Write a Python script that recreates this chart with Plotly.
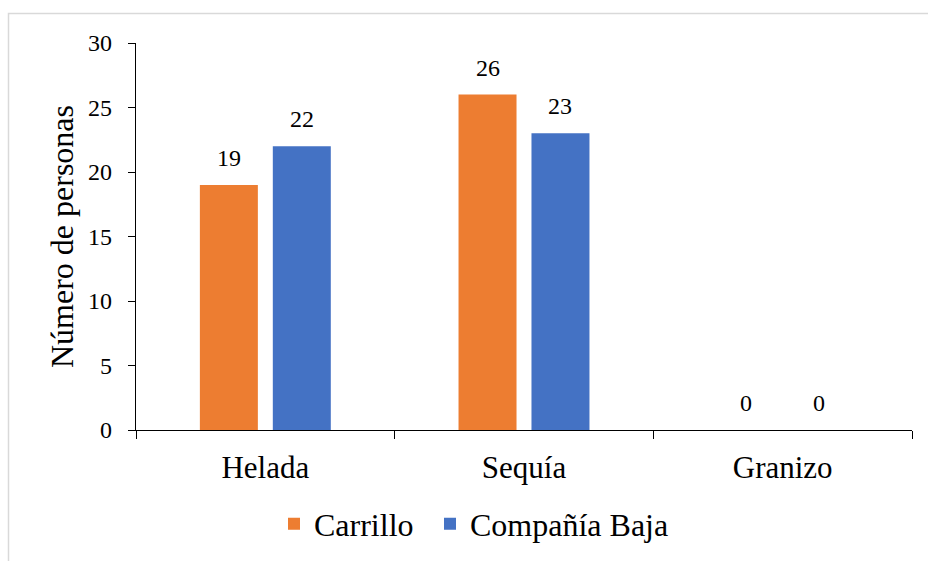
import plotly.graph_objects as go

categories = ["Helada", "Sequía", "Granizo"]
carrillo = [19, 26, 0]
compania_baja = [22, 23, 0]
series_names = ["Carrillo", "Compañía Baja"]
y_tick_vals = [0, 5, 10, 15, 20, 25, 30]

W, H = 928, 561
ML, MR, MT, MB = 136, 16, 43, 131
PW, PH = W - ML - MR, H - MT - MB

FONT = "Liberation Serif"
ORANGE = "#ED7D31"
BLUE = "#4472C4"

fig = go.Figure()
fig.add_trace(go.Bar(x=categories, y=carrillo, name=series_names[0],
                     legend="legend",
                     marker=dict(color=ORANGE, line=dict(width=0))))
fig.add_trace(go.Bar(x=categories, y=compania_baja, name=series_names[1],
                     legend="legend2",
                     marker=dict(color=BLUE, line=dict(width=0))))

# data labels
slot = PW / len(categories) * (1 - 0.436) / 2
for vals, dx in ((carrillo, -slot / 2), (compania_baja, slot / 2)):
    for c, v in zip(categories, vals):
        fig.add_annotation(x=c, y=v, text=str(v), showarrow=False,
                           xshift=dx, yshift=12, yanchor="bottom",
                           font=dict(family=FONT, size=24, color="black"))

def px_x(p):
    return (p - ML) / PW
def px_y(p):
    return (H - MB - p) / PH

# chart area border (extends past right/bottom edges)
fig.add_shape(type="rect", xref="paper", yref="paper",
              x0=px_x(8.5), x1=px_x(W + 20), y0=px_y(H + 20), y1=px_y(13.5),
              line=dict(color="#d9d9d9", width=1.5), fillcolor="rgba(0,0,0,0)",
              layer="below")

legend_style = dict(orientation="h", xanchor="left", yanchor="middle",
                    font=dict(family=FONT, size=32, color="black"),
                    bgcolor="rgba(0,0,0,0)", borderwidth=0)

fig.update_layout(
    width=W, height=H,
    margin=dict(l=ML, r=MR, t=MT, b=MB, pad=0, autoexpand=False),
    paper_bgcolor="white", plot_bgcolor="white",
    barmode="group", bargap=0.436, bargroupgap=0.205,
    font=dict(family=FONT, color="black"),
    showlegend=True,
    legend=dict(x=px_x(274), y=px_y(524), **legend_style),
    legend2=dict(x=px_x(430), y=px_y(524), **legend_style),
    xaxis=dict(showline=True, linecolor="black", linewidth=1.3,
               ticks="outside", tickson="boundaries", ticklen=8,
               tickcolor="black", tickwidth=1.3, automargin=False,
               tickfont=dict(family=FONT, size=31, color="black"),
               ticklabelstandoff=10, showgrid=False, zeroline=False),
    yaxis=dict(range=[0, 30], tickvals=y_tick_vals, showline=True,
               linecolor="black", linewidth=1.3, ticks="outside", ticklen=7,
               tickcolor="black", tickwidth=1.3, automargin=False,
               tickfont=dict(family=FONT, size=24, color="black"),
               ticklabelstandoff=11, showgrid=False, zeroline=False,
               title=dict(text="Número de personas",
                          font=dict(family=FONT, size=32, color="black"),
                          standoff=4)),
)

fig.write_html("out.html")
